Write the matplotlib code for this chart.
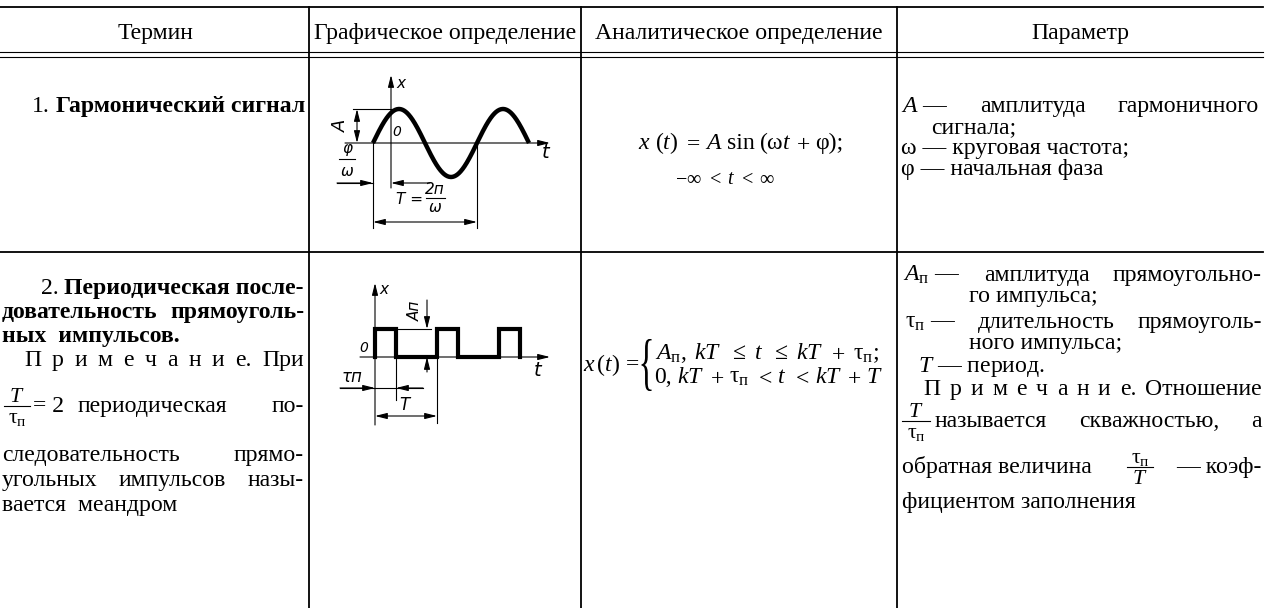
import numpy as np
import matplotlib
matplotlib.use("Agg")
import matplotlib.pyplot as plt
from matplotlib import font_manager as fm
from matplotlib.textpath import TextPath
from matplotlib.patches import PathPatch
from matplotlib.transforms import Affine2D

# ---------------- data (content) ----------------
headers = ["Термин", "Графическое определение", "Аналитическое определение", "Параметр"]

term1_num = "1."
term1_name = "Гармонический сигнал"

term2_num = "2."
term2_bold = ["Периодическая после-", "довательность прямоуголь-", "ных  импульсов."]
note_word = "П р и м е ч а н и е."
term2_note_tail = "При"
term2_after_frac = ["= 2", "периодическая по-"]
term2_rest = ["следовательность прямо-", "угольных импульсов назы-", "вается  меандром"]

sine_formula = [r"$x$", r"$(t)$", r"$=$", r"$A$", "sin", r"(ω$t$", r"$+$", "φ);"]
sine_domain = [r"$-\infty$", r"$<$", r"$t$", r"$<$", r"$\infty$"]
pulse_lhs = r"$x\,(t)\,=$"
pulse_cases = [[r"$A_{\mathrm{п}}$,", r"$kT$", r"$\leq$", r"$t$", r"$\leq$", r"$kT$",
                r"$+$", r"$\mathrm{\tau}_{\mathrm{п}}$;"],
               ["0,", r"$kT$", r"$+$", r"$\mathrm{\tau}_{\mathrm{п}}$", r"$<$", r"$t$",
                r"$<$", r"$kT$", r"$+$", r"$T$"]]

params1 = [[r"$A$ —", "амплитуда", "гармоничного"], "сигнала;",
           "ω — круговая частота;", "φ — начальная фаза"]
params2 = [[r"$A_{\mathrm{п}}$ —", "амплитуда", "прямоугольно-"], "го импульса;",
           [r"$\mathrm{\tau}_{\mathrm{п}}$ —", "длительность", "прямоуголь-"], "ного импульса;",
           r"$T$ — период.", "Отношение",
           ["называется", "скважностью,", "а"],
           ["обратная величина", "— коэф-"], "фициентом заполнения"]
frac_T = r"$T$"
frac_tau = r"$\mathrm{\tau}_{\mathrm{п}}$"

# diagram signal parameters (in pixels of the drawing)
sine_amp, sine_period, sine_shift, sine_cycles = 34, 104, 18, 1.5
pulse_amp, pulse_period, pulse_width, pulse_count = 28, 62, 21, 3

# ---------------- setup ----------------
W, H, DPI = 1269, 608, 100
plt.rcParams.update({
    'font.family': ['Liberation Serif', 'DejaVu Serif'],
    'mathtext.fontset': 'custom',
    'mathtext.rm': 'Liberation Serif',
    'mathtext.it': 'Liberation Serif:italic',
    'mathtext.bf': 'Liberation Serif:bold',
})
names = {f.name for f in fm.fontManager.ttflist}
DFONT = 'Liberation Sans Narrow' if 'Liberation Sans Narrow' in names else 'DejaVu Sans'

fig = plt.figure(figsize=(W / DPI, H / DPI), dpi=DPI)
fig.patch.set_facecolor('white')
ax = fig.add_axes([0, 0, 1, 1])
ax.set_xlim(0, W)
ax.set_ylim(H, 0)
ax.axis('off')
R = fig.canvas.get_renderer()


def tw(t):
    return t.get_window_extent(R).width


probe = ax.text(0, 0, headers[1], fontsize=17)
FS = 17 * 263 / tw(probe)
probe.remove()


def txt(x, y, s, ha='left', size=None, **kw):
    return ax.text(x, y, s, ha=ha, va='baseline', fontsize=size or FS, **kw)


def justify(words, x0, x1, y, size=None, **kw):
    ts = [txt(x0, y, w, size=size, **kw) for w in words]
    ws = [tw(t) for t in ts]
    gap = (x1 - x0 - sum(ws)) / max(len(ws) - 1, 1)
    x = x0
    for t, w in zip(ts, ws):
        t.set_x(x)
        x += w + gap
    return ts


def numbered(num, name, x_right, y):
    b = txt(x_right, y, name, ha='right', weight='bold')
    left = x_right - tw(b)
    txt(left - 6, y, num, ha='right')


def frac(xc, ybar, num, den, half, size=None):
    size = size or FS * 0.92
    txt(xc, ybar - 4, num, ha='center', size=size)
    ax.text(xc, ybar + 3, den, ha='center', va='top', fontsize=size)
    ax.plot([xc - half, xc + half], [ybar, ybar], color='k', lw=0.8)


def brace(x, yc, height, width):
    tp = TextPath((0, 0), "{", size=1, prop=fm.FontProperties(family='Liberation Serif'))
    e = tp.get_extents()
    tr = (Affine2D().translate(-e.x0, -(e.y0 + e.y1) / 2)
          .scale(width / e.width, -height / e.height).translate(x, yc))
    ax.add_patch(PathPatch(tr.transform_path(tp), facecolor='k', edgecolor='none'))


# ---------------- table rules ----------------
LW = 1.3
ax.plot([0, 1263], [7, 7], color='k', lw=LW)
ax.plot([0, 1263], [52, 52], color='k', lw=0.8)
ax.plot([0, 1263], [57, 57], color='k', lw=0.8)
ax.plot([0, 1263], [252, 252], color='k', lw=LW)
for xv in (309, 581, 897):
    ax.plot([xv, xv], [7, H], color='k', lw=LW)

# ---------------- header ----------------
for xc, h in zip((155, 445, 739, 1080), headers):
    txt(xc, 39, h, ha='center')

# ---------------- row 1 ----------------
numbered(term1_num, term1_name, 305, 112)

justify(sine_formula, 638, 843, 149)
justify(sine_domain, 675, 775, 184, size=FS * 0.85)

justify(params1[0], 901, 1259, 112)
txt(931, 133, params1[1])
txt(901, 154, params1[2])
txt(901, 175, params1[3])

# ---------------- row 2 : term ----------------
numbered(term2_num, term2_bold[0], 304, 294)
justify(term2_bold[1].split(), 2, 304, 318, weight='bold')
txt(2, 342, term2_bold[2], weight='bold')
justify(note_word.split() + [term2_note_tail], 24, 304, 366)
frac(17, 406, frac_T, frac_tau, 13)
txt(33, 412, term2_after_frac[0])
justify(term2_after_frac[1].split(), 78, 304, 412)
justify(term2_rest[0].split(), 2, 304, 461)
justify(term2_rest[1].split(), 2, 304, 486)
txt(2, 511, term2_rest[2])

# ---------------- row 2 : analytic ----------------
lhs = txt(583, 371, pulse_lhs)
bx = 583 + tw(lhs) + 2
brace(bx, 365, 52, 10)
cx = bx + 13
justify(pulse_cases[0], cx, 879, 359)
justify(pulse_cases[1], cx, 883, 383)

# ---------------- row 2 : parameters ----------------
justify(params2[0], 903, 1262, 281)
txt(969, 302, params2[1])
justify(params2[2], 905, 1262, 328)
txt(969, 349, params2[3])
txt(918, 372, params2[4])
justify(note_word.split() + [params2[5]], 923, 1262, 395)
frac(916, 421, frac_T, frac_tau, 14)
justify(params2[6], 935, 1262, 427)
txt(902, 473, params2[7][0])
frac(1140, 467, frac_tau, frac_T, 13)
txt(1262, 473, params2[7][1], ha='right')
txt(902, 508, params2[8])


# ---------------- diagrams ----------------
def diagram_axes(box, origin):
    x0, y0, x1, y1 = box
    a = fig.add_axes([x0 / W, 1 - y1 / H, (x1 - x0) / W, (y1 - y0) / H])
    ox, oy = origin
    a.set_xlim(x0 - ox, x1 - ox)
    a.set_ylim(oy - y1, oy - y0)
    a.axis('off')
    return a


def arr(a, p_from, p_to, style='-|>'):
    a.annotate('', xy=p_to, xytext=p_from,
               arrowprops=dict(arrowstyle=f'{style},head_length=0.8,head_width=0.2',
                               lw=0.8, color='k', shrinkA=0, shrinkB=0,
                               mutation_scale=9))


def thin(a, xs, ys):
    a.plot(xs, ys, color='k', lw=0.8)


def dl(a, x, y, s, size=11, **kw):
    kw.setdefault('ha', 'center')
    kw.setdefault('va', 'center')
    a.text(x, y, s, fontsize=size, family=DFONT, style='italic', **kw)


# sine
a1 = diagram_axes((330, 60, 560, 240), (391, 143))
arr(a1, (0, -45), (0, 68))
arr(a1, (-46, 0), (159, 0))
u = np.linspace(-sine_shift, -sine_shift + sine_cycles * sine_period, 400)
a1.plot(u, sine_amp * np.sin(2 * np.pi * (u + sine_shift) / sine_period),
        color='k', lw=3.2, solid_capstyle='butt')
thin(a1, [-38, 4], [sine_amp, sine_amp])
arr(a1, (-34, 0), (-34, sine_amp), '<|-|>')
dl(a1, -50, 17, "A", size=13, rotation=90)
dl(a1, 6, 11, "0", size=10)
dl(a1, 10, 59, "x", size=11)
dl(a1, 155, -10, "t", size=14)
dl(a1, -44, -6, "φ", size=11)
thin(a1, [-52, -36], [-16, -16])
dl(a1, -44, -29, "ω", size=11)
thin(a1, [-54, -18], [-40, -40])
arr(a1, (-54, -40), (-sine_shift, -40))
arr(a1, (39, -40), (0, -40))
thin(a1, [-sine_shift, -sine_shift], [0, -85])
thin(a1, [sine_period - sine_shift] * 2, [0, -85])
arr(a1, (-sine_shift, -79), (sine_period - sine_shift, -79), '<|-|>')
dl(a1, 18, -56, "T =", size=11)
dl(a1, 44, -46, "2п", size=11)
thin(a1, [35, 54], [-55, -55])
dl(a1, 44, -65, "ω", size=11)

# pulses
a2 = diagram_axes((330, 270, 560, 440), (375, 357))
arr(a2, (0, -68), (0, 74))
arr(a2, (-15, 0), (175, 0))
px, py = [0], [0]
for k in range(pulse_count):
    s = k * pulse_period
    px += [s, s, s + pulse_width, s + pulse_width]
    py += [0, pulse_amp, pulse_amp, 0]
a2.plot(px, py, color='k', lw=3.0, solid_joinstyle='miter')
thin(a2, [pulse_width, 56], [pulse_amp, pulse_amp])
arr(a2, (52, 57), (52, pulse_amp))
arr(a2, (52, -15), (52, 0))
dl(a2, 40, 46, "Aп", size=11, rotation=90)
dl(a2, -11, 9, "0", size=10)
dl(a2, 9, 67, "x", size=11)
dl(a2, 163, -13, "t", size=14)
dl(a2, -23, -20, "τп", size=12)
thin(a2, [-35, 48], [-31, -31])
arr(a2, (-35, -31), (0, -31))
arr(a2, (48, -31), (pulse_width, -31))
thin(a2, [pulse_width, pulse_width], [0, -43])
dl(a2, 29, -48, "T", size=12)
arr(a2, (0, -59), (pulse_period, -59), '<|-|>')
thin(a2, [pulse_period, pulse_period], [0, -66])

fig.savefig("out.png", dpi=DPI, facecolor='white')
